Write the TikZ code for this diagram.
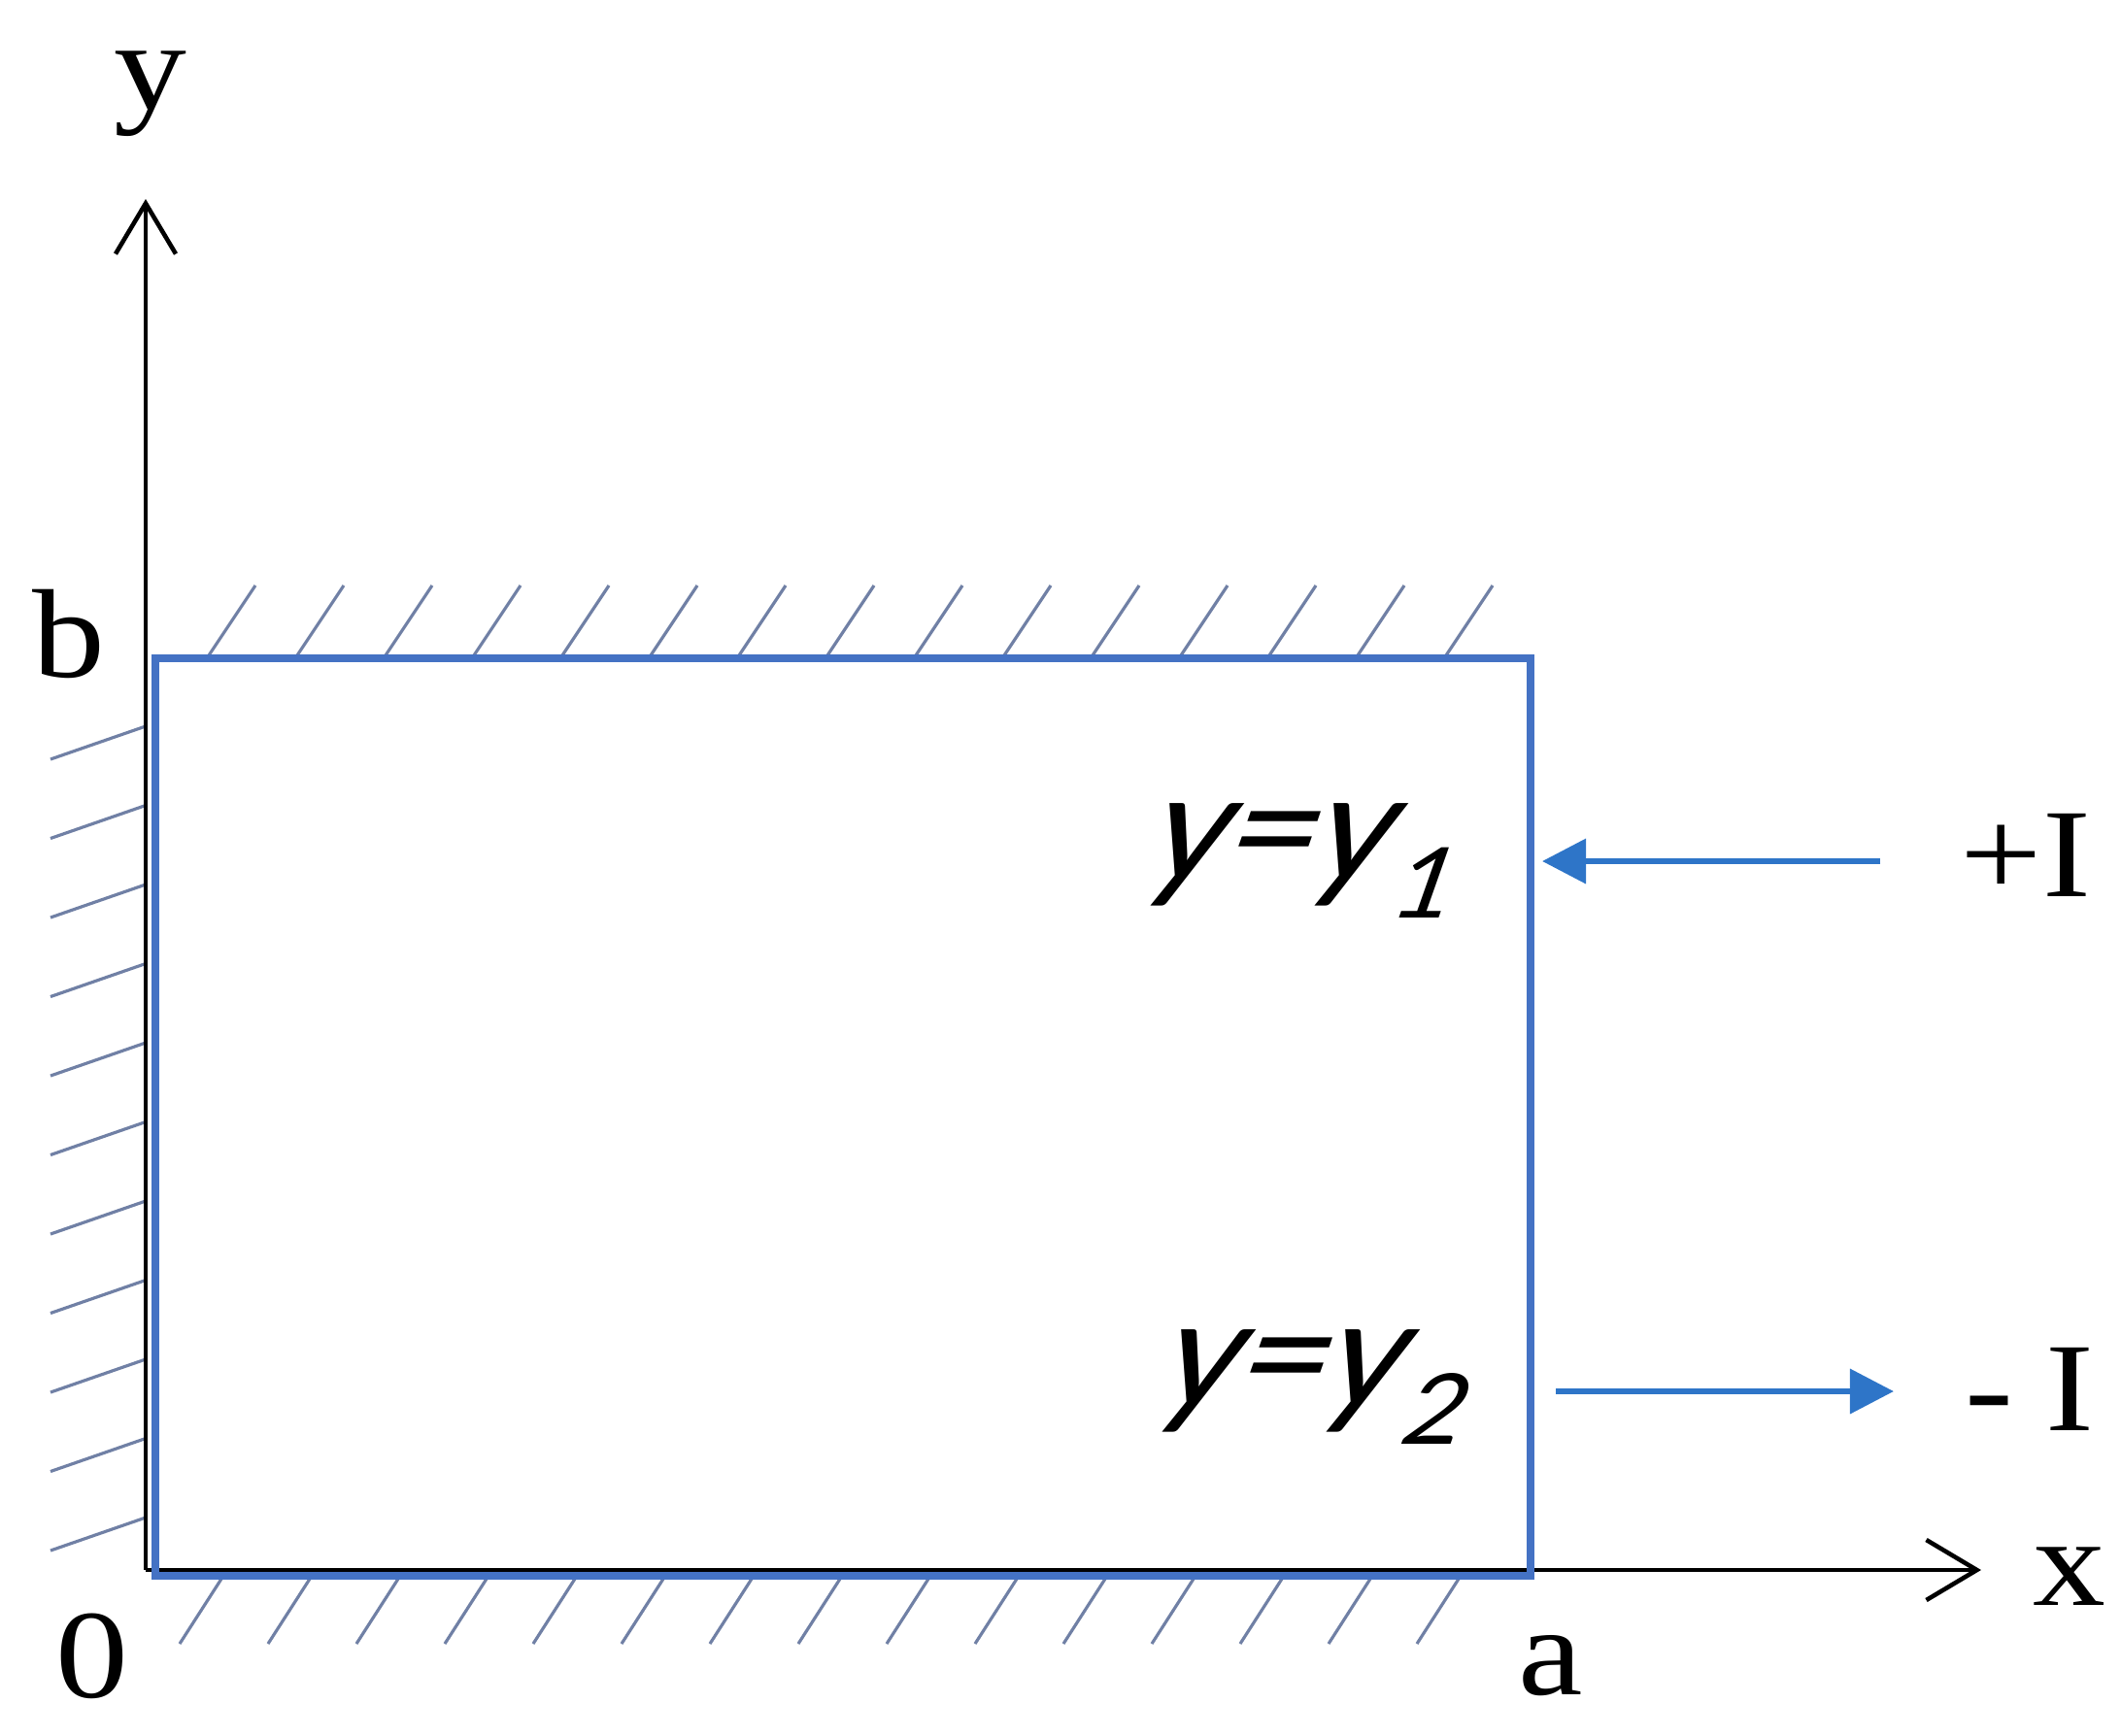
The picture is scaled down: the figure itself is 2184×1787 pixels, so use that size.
\documentclass[tikz,border=0pt]{standalone}
\usepackage{fontspec}
\setmainfont{Liberation Serif}
\newfontfamily\calib{Carlito}
\usetikzlibrary{arrows.meta}
\definecolor{rectblue}{RGB}{68,114,196}
\definecolor{arrowblue}{RGB}{46,117,200}
\definecolor{hatchcol}{RGB}{112,128,165}
\newcommand{\widetext}[1]{\scalebox{1.15}[1]{#1}}
\begin{document}
\begin{tikzpicture}[x=0.01cm,y=-0.01cm,
  axis/.style={line width=1.3pt, -{Straight Barb[length=5.2mm,width=6.2mm]}},
  hatchline/.style={hatchcol, line width=0.9pt},
  frame/.style={draw=rectblue, line width=2.1pt},
  current/.style={arrowblue, line width=1.9pt, -{Triangle[length=4.5mm,width=4.5mm]}},
  axlabel/.style={font=\fontsize{37}{42}\selectfont, inner sep=0pt, anchor=base},
  poslabel/.style={font=\calib\itshape\fontsize{47}{52}\selectfont, inner sep=0pt,
     anchor=base west, xslant=0.22, transform shape}
]
\fill[white] (0,0) rectangle (2184,1787);
% axes
\coordinate (O) at (150,1617);
\coordinate (ytip) at (150,205);
\coordinate (xtip) at (2040,1617);
% hatching
\foreach \i in {0,...,14} \draw[hatchline] ({213+91*\i},678) -- ++(50,-75);
\foreach \i in {0,...,14} \draw[hatchline] ({230+91*\i},1623) -- ++(-45,70);
\foreach \i in {0,...,10} \draw[hatchline] (150,{748+81.5*\i}) -- ++(-98,34);
\draw[axis] (O) -- (ytip);
\draw[axis] (O) -- (xtip);
% plate
\draw[frame] (160,678) rectangle (1576,1623);
% currents
\coordinate (p1s) at (1936,887);
\coordinate (p1e) at (1588,887);
\coordinate (p2s) at (1602,1433);
\coordinate (p2e) at (1950,1433);
\draw[current] (p1s) -- (p1e);
\draw[current] (p2s) -- (p2e);
% labels
\node[axlabel] (ylab) at (155,112) {\widetext{y}};
\node[axlabel] (blab) at (71,697) {\widetext{b}};
\node[axlabel] (zlab) at (95,1748) {\widetext{0}};
\node[axlabel] (alab) at (1597,1745) {\widetext{a}};
\node[axlabel] (xlab) at (2131,1653) {\widetext{x}};
\node[axlabel] (pI) at (2086,923) {\widetext{+I}};
\node[axlabel] (mI) at (2090,1473) {\widetext{-\kern0.22em I}};
\begin{scope}[shift={(1180,906)}]
\node[poslabel] (y1) at (0,0) {\scalebox{1.08}[1]{y=y\kern0.04em\raisebox{-0.24em}{\fontsize{32}{34}\selectfont 1}}};
\end{scope}
\begin{scope}[shift={(1192,1448)}]
\node[poslabel] (y2) at (0,0) {\scalebox{1.08}[1]{y=y\kern0.04em\raisebox{-0.24em}{\fontsize{32}{34}\selectfont 2}}};
\end{scope}
\end{tikzpicture}
\end{document}
